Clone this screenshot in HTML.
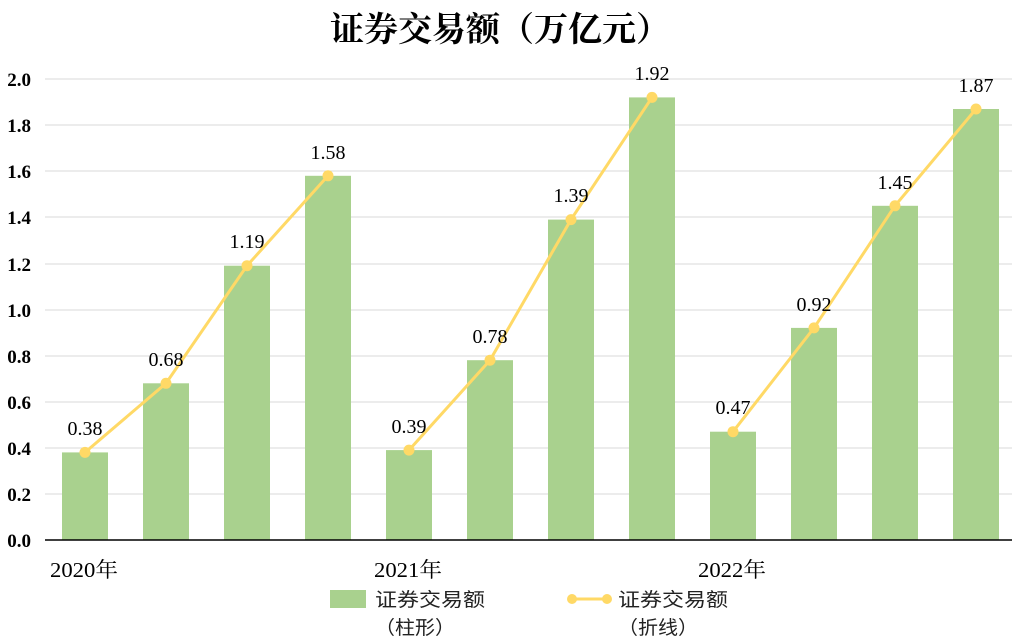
<!DOCTYPE html>
<html><head><meta charset="utf-8"><style>body{margin:0;background:#fff}svg{display:block}</style></head>
<body>
<svg width="1019" height="640" viewBox="0 0 1019 640" xmlns="http://www.w3.org/2000/svg">
<text x="500" y="41" text-anchor="middle" font-family="'Liberation Serif','Noto Serif CJK SC',serif" font-weight="bold" font-size="34">证券交易额（万亿元）</text>
<g stroke="#d9d9d9" stroke-width="1">
<line x1="45" x2="1012" y1="79" y2="79"/><line x1="45" x2="1012" y1="125" y2="125"/><line x1="45" x2="1012" y1="171" y2="171"/><line x1="45" x2="1012" y1="217" y2="217"/><line x1="45" x2="1012" y1="264" y2="264"/><line x1="45" x2="1012" y1="310" y2="310"/><line x1="45" x2="1012" y1="356" y2="356"/><line x1="45" x2="1012" y1="402" y2="402"/><line x1="45" x2="1012" y1="448" y2="448"/><line x1="45" x2="1012" y1="494" y2="494"/>
</g>
<g font-family="'Liberation Serif',serif" font-weight="bold" font-size="19" text-anchor="end">
<text x="31" y="86">2.0</text><text x="31" y="132">1.8</text><text x="31" y="178">1.6</text><text x="31" y="224">1.4</text><text x="31" y="271">1.2</text><text x="31" y="317">1.0</text><text x="31" y="363">0.8</text><text x="31" y="409">0.6</text><text x="31" y="455">0.4</text><text x="31" y="501">0.2</text><text x="31" y="547">0.0</text>
</g>
<g fill="#a9d18e">
<rect x="62" y="452.4" width="46" height="87.6"/>
<rect x="143" y="383.3" width="46" height="156.7"/>
<rect x="224" y="265.7" width="46" height="274.3"/>
<rect x="305" y="175.8" width="46" height="364.2"/>
<rect x="386" y="450.1" width="46" height="89.9"/>
<rect x="467" y="360.2" width="46" height="179.8"/>
<rect x="548" y="219.6" width="46" height="320.4"/>
<rect x="629" y="97.4" width="46" height="442.6"/>
<rect x="710" y="431.7" width="46" height="108.3"/>
<rect x="791" y="327.9" width="46" height="212.1"/>
<rect x="872" y="205.8" width="46" height="334.2"/>
<rect x="953" y="109" width="46" height="431"/>
</g>
<line x1="45" x2="1012" y1="540" y2="540" stroke="#000" stroke-width="1.5"/>
<polyline fill="none" stroke="#ffd966" stroke-width="3" points="85,452.4 166,383.3 247,265.7 328,175.8"/>
<polyline fill="none" stroke="#ffd966" stroke-width="3" points="409,450.1 490,360.2 571,219.6 652,97.4"/>
<polyline fill="none" stroke="#ffd966" stroke-width="3" points="733,431.7 814,327.9 895,205.8 976,109"/>
<g fill="#ffd966">
<circle cx="85" cy="452.4" r="5.5"/><circle cx="166" cy="383.3" r="5.5"/><circle cx="247" cy="265.7" r="5.5"/><circle cx="328" cy="175.8" r="5.5"/>
<circle cx="409" cy="450.1" r="5.5"/><circle cx="490" cy="360.2" r="5.5"/><circle cx="571" cy="219.6" r="5.5"/><circle cx="652" cy="97.4" r="5.5"/>
<circle cx="733" cy="431.7" r="5.5"/><circle cx="814" cy="327.9" r="5.5"/><circle cx="895" cy="205.8" r="5.5"/><circle cx="976" cy="109" r="5.5"/>
</g>
<g font-family="'Liberation Serif',serif" font-size="20" text-anchor="middle">
<text x="85" y="435">0.38</text><text x="166" y="366">0.68</text><text x="247" y="248">1.19</text><text x="328" y="159">1.58</text>
<text x="409" y="433">0.39</text><text x="490" y="343">0.78</text><text x="571" y="202">1.39</text><text x="652" y="80">1.92</text>
<text x="733" y="414">0.47</text><text x="814" y="311">0.92</text><text x="895" y="189">1.45</text><text x="976" y="92">1.87</text>
</g>
<g font-family="'Liberation Serif','Noto Serif CJK SC',serif" font-size="21">
<text x="50" y="577" textLength="68" lengthAdjust="spacingAndGlyphs">2020年</text>
<text x="374" y="577" textLength="68" lengthAdjust="spacingAndGlyphs">2021年</text>
<text x="698" y="577" textLength="68" lengthAdjust="spacingAndGlyphs">2022年</text>
</g>
<rect x="330" y="590" width="36" height="18" fill="#a9d18e"/>
<line x1="571" x2="608" y1="599" y2="599" stroke="#ffd966" stroke-width="3"/>
<circle cx="572" cy="599" r="5" fill="#ffd966"/><circle cx="607" cy="599" r="5" fill="#ffd966"/>
<g font-family="'Noto Sans CJK SC',sans-serif" font-size="19" fill="#222">
<text x="375" y="606" textLength="110" lengthAdjust="spacingAndGlyphs">证券交易额</text>
<text x="375" y="634" textLength="80" lengthAdjust="spacingAndGlyphs">（柱形）</text>
<text x="618" y="606" textLength="110" lengthAdjust="spacingAndGlyphs">证券交易额</text>
<text x="618" y="634" textLength="80" lengthAdjust="spacingAndGlyphs">（折线）</text>
</g>
</svg>
</body></html>
